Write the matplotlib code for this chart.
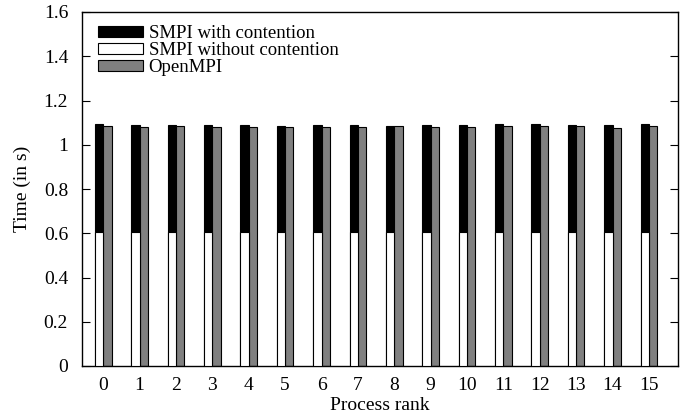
import matplotlib
matplotlib.use("Agg")
import matplotlib.pyplot as plt
import numpy as np

ranks = list(range(16))
smpi_contention = [1.093, 1.089, 1.089, 1.088, 1.088, 1.087, 1.088, 1.088,
                   1.087, 1.089, 1.090, 1.094, 1.093, 1.090, 1.090, 1.092]
smpi_no_contention = [0.605] * 16
openmpi = [1.086, 1.080, 1.083, 1.081, 1.082, 1.081, 1.082, 1.080,
           1.084, 1.081, 1.082, 1.083, 1.087, 1.085, 1.074, 1.087]
yticks = [0, 0.2, 0.4, 0.6, 0.8, 1, 1.2, 1.4, 1.6]
ytick_labels = ["0", "0.2", "0.4", "0.6", "0.8", "1", "1.2", "1.4", "1.6"]

plt.rcParams['font.family'] = ['Liberation Serif', 'DejaVu Serif']
plt.rcParams['font.size'] = 14

fig = plt.figure(figsize=(6.9, 4.16), dpi=100)
ax = fig.add_axes([82/690, 1 - 366/416, (678-82)/690, (366-12)/416])

x = np.arange(len(ranks))
w = 0.228
ax.bar(x - w/2, smpi_contention, width=w, color='black', edgecolor='black',
       linewidth=0.8, label='SMPI with contention', zorder=2)
ax.bar(x - w/2, smpi_no_contention, width=w, color='white', edgecolor='black',
       linewidth=0.8, label='SMPI without contention', zorder=3)
ax.bar(x + w/2, openmpi, width=w, color='#808080', edgecolor='black',
       linewidth=0.8, label='OpenMPI', zorder=2)

ax.set_xlim(-0.585, 15.8)
ax.set_ylim(0, 1.6)
ax.set_xticks(x)
ax.set_xticklabels([str(r) for r in ranks])
ax.set_yticks(yticks)
ax.set_yticklabels(ytick_labels)
ax.tick_params(axis='y', direction='in', length=6, width=0.8, right=True, left=True, pad=10)
ax.tick_params(axis='x', direction='in', length=0, pad=8)
for s in ax.spines.values():
    s.set_linewidth(1.0)

ax.set_xlabel('Process rank', labelpad=2)
ax.set_ylabel('Time (in s)', labelpad=9)

leg = ax.legend(loc='upper left', frameon=False, fontsize=13.5, handlelength=2.4,
                handleheight=0.55, handletextpad=0.3, labelspacing=0.0,
                borderaxespad=0.0, borderpad=0.0,
                bbox_to_anchor=(16/596, 1 - 13/354))

fig.savefig('out.png', dpi=100)
